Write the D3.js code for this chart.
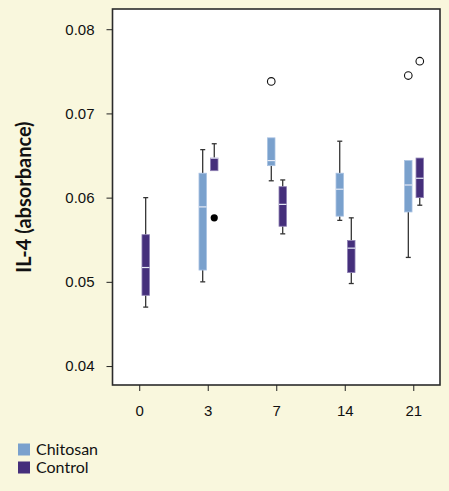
<!DOCTYPE html>
<html>
<head>
<meta charset="utf-8">
<script src="https://cdn.jsdelivr.net/npm/d3@7"></script>
<style>
  body { margin: 0; background: #f9f7dd; }
  svg { display: block; font-family: "Lato", "Open Sans", sans-serif; }
</style>
</head>
<body>
<script>
// days on the x axis
var days = ["0", "3", "7", "14", "21"];
var groups = ["Chitosan", "Control"];
var colors = ["#7aa1cd", "#452f7b"];

// box stats per group (null = no box that day): [whiskerLow, q1, median, q3, whiskerHigh]
var chitosanStats = [
  null,
  [0.0500, 0.0514, 0.0589, 0.0629, 0.0657],
  [0.0620, 0.0638, 0.0644, 0.0671, 0.0671],
  [0.0573, 0.0578, 0.0610, 0.0629, 0.0667],
  [0.0529, 0.0583, 0.0615, 0.0644, 0.0644]
];
var controlStats = [
  [0.0470, 0.0484, 0.0517, 0.0556, 0.0600],
  [0.0632, 0.0632, 0.0647, 0.0647, 0.0664],
  [0.0557, 0.0566, 0.0592, 0.0613, 0.0621],
  [0.0498, 0.0511, 0.0540, 0.0549, 0.0576],
  [0.0591, 0.0600, 0.0623, 0.0647, 0.0647]
];

// outliers: [day, group, value, filled]
var outliers = [
  ["3", 1, 0.0576, true],
  ["7", 0, 0.0738, false],
  ["21", 0, 0.0745, false],
  ["21", 1, 0.0762, false]
];

var yTicks = [0.04, 0.05, 0.06, 0.07, 0.08];

var width = 449, height = 491;
var margin = { top: 9, right: 9, bottom: 106, left: 112.5 };

var svg = d3.select("body").append("svg")
  .attr("width", width)
  .attr("height", height);

var x = d3.scalePoint()
  .domain(days)
  .range([margin.left, width - margin.right])
  .padding(0.39);

var y = d3.scaleLinear()
  .domain([0.03775, 0.0824])
  .range([height - margin.bottom, margin.top]);

var offsets = [-5, 6.5];
var boxW = 7.5;

// plot area
svg.append("rect")
  .attr("x", margin.left)
  .attr("y", margin.top)
  .attr("width", width - margin.left - margin.right)
  .attr("height", height - margin.top - margin.bottom)
  .style("fill", "white")
  .style("stroke", "#2b2b2b")
  .style("stroke-width", 1.6);

// y axis
var yAxis = svg.append("g")
  .attr("transform", "translate(" + margin.left + ",0)")
  .call(d3.axisLeft(y).tickValues(yTicks).tickFormat(d3.format(".2f")).tickSize(6).tickPadding(12));
yAxis.select(".domain").remove();
yAxis.selectAll("text").style("font-size", "15px").style("fill", "#111");
yAxis.selectAll("line").style("stroke", "#222");

// x axis
var xAxis = svg.append("g")
  .attr("transform", "translate(0," + (height - margin.bottom) + ")")
  .call(d3.axisBottom(x).tickSize(6).tickPadding(14));
xAxis.select(".domain").remove();
xAxis.selectAll("text").style("font-size", "15px").style("fill", "#111");
xAxis.selectAll("line").style("stroke", "#222");

svg.append("text")
  .attr("transform", "translate(31," + (margin.top + (height - margin.top - margin.bottom) / 2) + ") rotate(-90)")
  .attr("text-anchor", "middle")
  .style("font-size", "20px")
  .style("font-weight", "bold")
  .style("fill", "#111")
  .text("IL-4 (absorbance)");

// boxes
var allStats = [chitosanStats, controlStats];
allStats.forEach(function (stats, gi) {
  stats.forEach(function (s, di) {
    if (!s) return;
    var cx = x(days[di]) + offsets[gi];
    var g = svg.append("g");
    // whiskers
    g.append("line")
      .attr("x1", cx).attr("x2", cx)
      .attr("y1", y(s[4])).attr("y2", y(s[3]))
      .style("stroke", "#111").style("stroke-width", 1.1);
    g.append("line")
      .attr("x1", cx).attr("x2", cx)
      .attr("y1", y(s[1])).attr("y2", y(s[0]))
      .style("stroke", "#111").style("stroke-width", 1.1);
    if (s[4] > s[3]) {
      g.append("line")
        .attr("x1", cx - 2.5).attr("x2", cx + 2.5)
        .attr("y1", y(s[4])).attr("y2", y(s[4]))
        .style("stroke", "#333").style("stroke-width", 1.3);
    }
    if (s[0] < s[1]) {
      g.append("line")
        .attr("x1", cx - 2.5).attr("x2", cx + 2.5)
        .attr("y1", y(s[0])).attr("y2", y(s[0]))
        .style("stroke", "#333").style("stroke-width", 1.3);
    }
    g.append("rect")
      .attr("x", cx - boxW / 2)
      .attr("y", y(s[3]))
      .attr("width", boxW)
      .attr("height", y(s[1]) - y(s[3]))
      .style("fill", colors[gi])
      .style("stroke", gi === 0 ? "#a9c2e2" : "#8e80b3")
      .style("stroke-width", 0.8);
    g.append("line")
      .attr("x1", cx - boxW / 2).attr("x2", cx + boxW / 2)
      .attr("y1", y(s[2])).attr("y2", y(s[2]))
      .style("stroke", "#e6eaf5").style("stroke-width", 1.2);
  });
});

// outliers
svg.selectAll(".outlier")
  .data(outliers)
  .enter().append("circle")
  .attr("class", "outlier")
  .attr("cx", function (d) { return x(d[0]) + offsets[d[1]]; })
  .attr("cy", function (d) { return y(d[2]); })
  .attr("r", function (d) { return d[3] ? 3.6 : 3.8; })
  .style("fill", function (d) { return d[3] ? "#000" : "none"; })
  .style("stroke", "#111")
  .style("stroke-width", function (d) { return d[3] ? 0 : 1.1; });

// legend
var legend = svg.selectAll(".legend")
  .data(groups)
  .enter().append("g")
  .attr("class", "legend")
  .attr("transform", function (d, i) { return "translate(18," + (443.5 + i * 18) + ")"; });
legend.append("rect")
  .attr("width", 12).attr("height", 12)
  .style("fill", function (d, i) { return colors[i]; });
legend.append("text")
  .attr("x", 18).attr("y", 11.5)
  .style("font-size", "16px")
  .style("fill", "#111")
  .text(function (d) { return d; });
</script>
</body>
</html>
